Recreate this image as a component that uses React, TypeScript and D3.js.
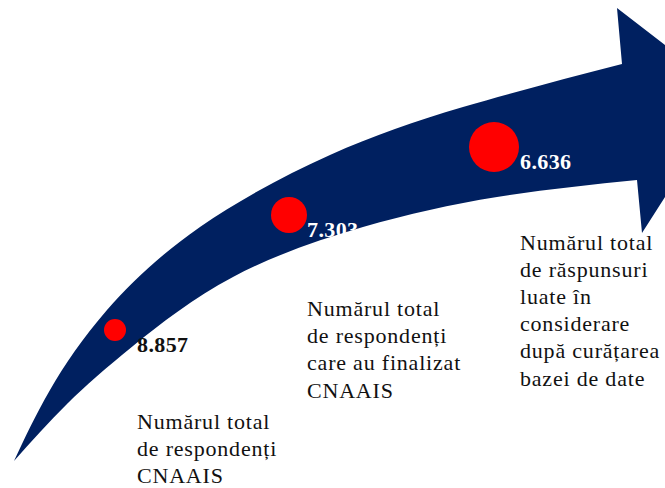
import React, { useEffect, useRef } from 'react';
import * as d3 from 'd3';

// steps of the survey funnel
const stepValues = [8857, 7303, 6636];
const stepDescriptions = [
  ['Numărul total', 'de respondenți', 'CNAAIS'],
  ['Numărul total', 'de respondenți', 'care au finalizat', 'CNAAIS'],
  ['Numărul total', 'de răspunsuri', 'luate în', 'considerare', 'după curățarea', 'bazei de date'],
];

// outline of the arrow body (tip at bottom left -> arrowhead notch)
const upperEdge: [number, number][] = [
  [14, 461], [50, 390], [107, 310], [200, 227], [330, 155], [463, 107], [622, 64],
];
const lowerEdge: [number, number][] = [
  [637, 180], [497, 197], [363, 227], [233, 277], [133, 346], [67, 404], [14, 461],
];
const arrowHead: [number, number][] = [[617, 8], [730, 95], [642, 233]];

const width = 665;
const height = 488;
const navy = '#002060';
const fontFamily = '"Liberation Serif", "Times New Roman", serif';

const App = () => {
  const ref = useRef<SVGSVGElement>(null);

  useEffect(() => {
    const svg = d3.select(ref.current);
    svg.selectAll('*').remove();

    const fmt = d3.formatLocale({ decimal: ',', thousands: '.', grouping: [3], currency: ['', ''] }).format(',');
    const idx = stepValues.map((_, i) => i);

    // positions along the arrow
    const cx = d3.scaleLinear().domain([0, 1, 2]).range([115, 289, 494]);
    const cy = d3.scaleLinear().domain([0, 1, 2]).range([330, 215, 147]);
    const r = d3.scaleLinear().domain([0, 2]).range([11, 25]);
    const textX = d3.scaleLinear().domain([0, 1, 2]).range([137, 307, 520]);
    const textY = d3.scaleLinear().domain([0, 1, 2]).range([429, 316, 249.5]);
    const lineGap = 27.2;

    const edge = d3.line().curve(d3.curveNatural);
    const upper = edge(upperEdge) as string;
    const lower = (edge(lowerEdge) as string).replace(/^M/, 'L');
    const head = arrowHead.map((p) => `L${p[0]},${p[1]}`).join('');

    svg.append('path').attr('d', `${upper}${head}${lower}Z`).attr('fill', navy);

    svg
      .selectAll('circle.step')
      .data(idx)
      .enter()
      .append('circle')
      .attr('class', 'step')
      .attr('cx', (i) => cx(i))
      .attr('cy', (i) => cy(i))
      .attr('r', (i) => r(i))
      .attr('fill', '#ff0000');

    svg
      .selectAll('text.value')
      .data(idx)
      .enter()
      .append('text')
      .attr('class', 'value')
      .attr('x', (i) => textX(i))
      .attr('y', (i) => cy(i) + 21.5)
      .attr('font-family', fontFamily)
      .attr('font-weight', 'bold')
      .attr('font-size', 22)
      .attr('letter-spacing', 0.4)
      .attr('fill', (i) => (i === 0 ? '#111' : '#fff'))
      .text((i) => fmt(stepValues[i]));

    const blocks = svg
      .selectAll('text.desc')
      .data(idx)
      .enter()
      .append('text')
      .attr('class', 'desc')
      .attr('font-family', fontFamily)
      .attr('font-size', 22)
      .attr('letter-spacing', 0.8)
      .attr('fill', '#111');

    blocks
      .selectAll('tspan')
      .data((i) => stepDescriptions[i].map((line, k) => ({ line, k, i })))
      .enter()
      .append('tspan')
      .attr('x', (d) => textX(d.i))
      .attr('y', (d) => textY(d.i) + d.k * lineGap)
      .text((d) => d.line);
  }, []);

  return (
    <svg
      ref={ref}
      width={width}
      height={height}
      style={{ position: 'absolute', left: 0, top: 0, display: 'block', background: '#fff' }}
    />
  );
};

export default App;
